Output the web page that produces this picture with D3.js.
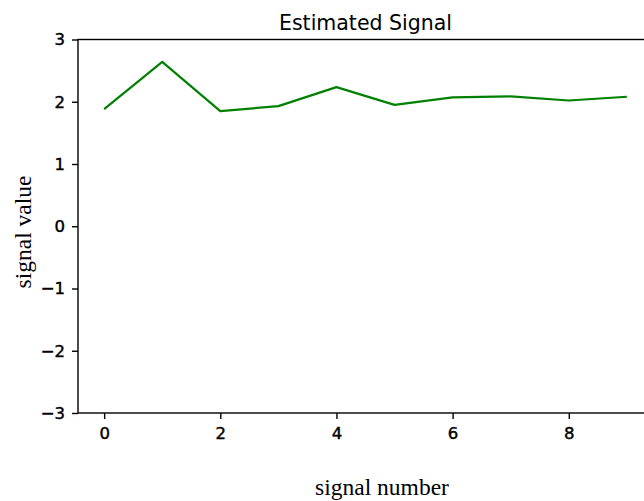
<!DOCTYPE html>
<html>
<head>
<meta charset="utf-8">
<script src="https://cdn.jsdelivr.net/npm/d3@7"></script>
<style>
  html, body { margin: 0; padding: 0; background: #fff; }
  svg { display: block; }
</style>
</head>
<body>
<svg id="chart" width="644" height="501"></svg>
<script>
// Estimated signal values, one per signal index
const signalIndex = [0, 1, 2, 3, 4, 5, 6, 7, 8, 9];
const signalValue = [1.88, 2.64, 1.85, 1.93, 2.235, 1.95, 2.07, 2.085, 2.02, 2.08];
const xTicks = [0, 2, 4, 6, 8];
const yTicks = [-3, -2, -1, 0, 1, 2, 3];
const titleText = "Estimated Signal";
const xLabelText = "signal number";
const yLabelText = "signal value";

const svg = d3.select("#chart");
const plot = { left: 78, right: 653, top: 39.5, bottom: 413 };

const x = d3.scaleLinear().domain([-0.45, 9.45]).range([plot.left, plot.right]);
const y = d3.scaleLinear().domain([-3, 3]).range([plot.bottom, plot.top]);

const tickFont = "'DejaVu Sans', sans-serif";
const labelFont = "'Liberation Serif', 'Times New Roman', serif";

// Axes
const xAxis = d3.axisBottom(x).tickValues(xTicks).tickSize(6).tickPadding(8)
  .tickFormat(d3.format("d"));
const yAxis = d3.axisLeft(y).tickValues(yTicks).tickSize(6).tickPadding(7)
  .tickFormat(d3.format("d"));

const gx = svg.append("g").attr("transform", `translate(0,${plot.bottom})`).call(xAxis);
const gy = svg.append("g").attr("transform", `translate(${plot.left},0)`).call(yAxis);

[gx, gy].forEach(g => {
  g.select(".domain").remove();
  g.selectAll(".tick line").attr("stroke", "#000").attr("stroke-width", 1.4);
  g.selectAll(".tick text")
    .attr("fill", "#000")
    .attr("stroke", "#000")
    .attr("stroke-width", 0.45)
    .style("font-family", tickFont)
    .style("font-size", "16.5px");
});

// Frame (spines)
svg.append("rect")
  .attr("x", plot.left).attr("y", plot.top)
  .attr("width", plot.right - plot.left).attr("height", plot.bottom - plot.top)
  .attr("fill", "none").attr("stroke", "#000").attr("stroke-width", 1.4);

// Signal line
const line = d3.line()
  .x((d, i) => x(signalIndex[i]))
  .y(d => y(d));

svg.append("path")
  .datum(signalValue)
  .attr("d", line)
  .attr("fill", "none")
  .attr("stroke", "#008000")
  .attr("stroke-width", 2.2)
  .attr("stroke-linejoin", "round");

// Title
svg.append("text")
  .attr("x", (plot.left + plot.right) / 2)
  .attr("y", 30)
  .attr("text-anchor", "middle")
  .style("font-family", tickFont)
  .style("font-size", "20.5px")
  .attr("fill", "#000")
  .text(titleText);

// Axis labels
svg.append("text")
  .attr("x", 382)
  .attr("y", 495)
  .attr("text-anchor", "middle")
  .style("font-family", labelFont)
  .style("font-size", "23.5px")
  .attr("fill", "#000")
  .text(xLabelText);

svg.append("text")
  .attr("transform", "translate(31,232) rotate(-90)")
  .attr("text-anchor", "middle")
  .style("font-family", labelFont)
  .style("font-size", "23.5px")
  .attr("fill", "#000")
  .text(yLabelText);
</script>
</body>
</html>
